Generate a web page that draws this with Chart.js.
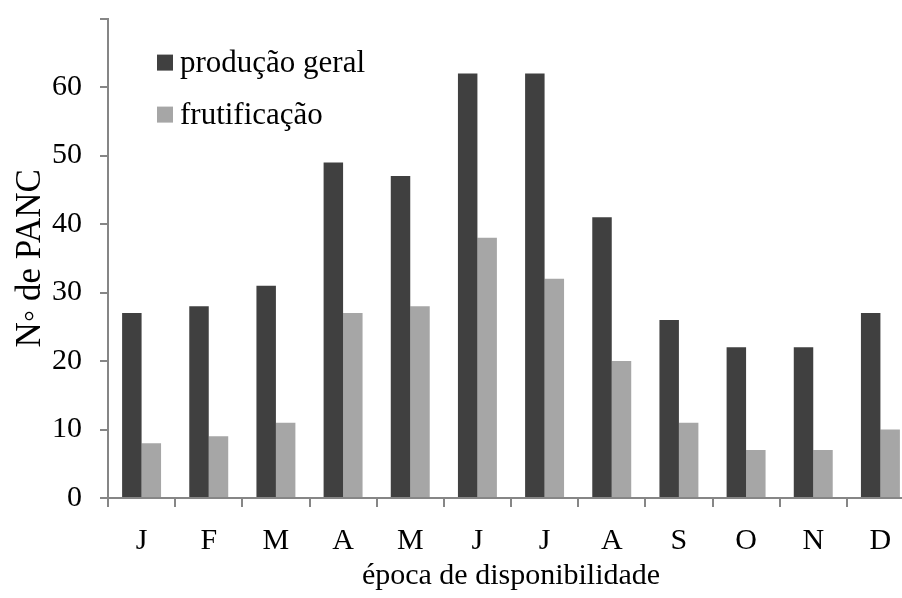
<!DOCTYPE html>
<html>
<head>
<meta charset="utf-8">
<script src="https://cdn.jsdelivr.net/npm/chart.js@4.4.1/dist/chart.umd.min.js"></script>
<style>
html,body{margin:0;padding:0;background:#fff;overflow:hidden;}
#wrap{width:916px;height:598px;position:relative;}
</style>
</head>
<body>
<div id="wrap"><canvas id="c"></canvas></div>
<script>
const categories = ['J','F','M','A','M','J','J','A','S','O','N','D'];
const producaoGeral = [27, 28, 31, 49, 47, 62, 62, 41, 26, 22, 22, 27];
const frutificacao = [8, 9, 11, 27, 28, 38, 32, 20, 11, 7, 7, 10];
const seriesNames = ['produção geral', 'frutificação'];
const yTickMax = 60;

const FONT = '"Liberation Serif", "Times New Roman", serif';
const AXIS = '#868686';

const innerLegend = {
  id: 'innerLegend',
  afterDraw(chart) {
    const ctx = chart.ctx;
    const ca = chart.chartArea;
    ctx.save();
    ctx.font = '31px ' + FONT;
    ctx.textBaseline = 'middle';
    chart.data.datasets.forEach((ds, i) => {
      const y = ca.top + 44 + i * 52;
      ctx.fillStyle = ds.backgroundColor;
      ctx.fillRect(ca.left + 49, y - 8, 16, 16);
      ctx.fillStyle = '#000';
      ctx.fillText(ds.label, ca.left + 72, y + 1);
    });
    ctx.restore();
  }
};

new Chart(document.getElementById('c'), {
  type: 'bar',
  data: {
    labels: categories,
    datasets: [
      { label: seriesNames[0], data: producaoGeral, backgroundColor: '#404040' },
      { label: seriesNames[1], data: frutificacao, backgroundColor: '#a6a6a6' }
    ]
  },
  options: {
    responsive: true,
    maintainAspectRatio: false,
    animation: false,
    layout: { padding: { top: 14, right: 2, left: 0, bottom: 0 } },
    datasets: { bar: { categoryPercentage: 0.58, barPercentage: 1.0 } },
    plugins: { legend: { display: false }, tooltip: { enabled: false } },
    scales: {
      x: {
        offset: true,
        grid: { offset: true, drawOnChartArea: false, drawTicks: true, tickLength: 9, color: AXIS, lineWidth: 2 },
        border: { color: AXIS, width: 2 },
        ticks: { color: '#000', font: { family: FONT, size: 30 }, padding: 16, maxRotation: 0, autoSkip: false },
        title: { display: true, text: 'época de disponibilidade', color: '#000', font: { family: FONT, size: 30 }, padding: { top: 0 } },
        afterFit(s) { s.height = 100; }
      },
      y: {
        min: 0, max: 70,
        grid: { drawOnChartArea: false, drawTicks: true, tickLength: 8, color: AXIS, lineWidth: 2 },
        border: { color: AXIS, width: 2 },
        ticks: {
          stepSize: 10, color: '#000', padding: 18,
          font: (c) => ({ family: FONT, size: (c.tick && c.tick.value > yTickMax) ? 1 : 30 }),
          callback: (v) => v > yTickMax ? '' : v
        },
        title: { display: true, text: 'N◦ de PANC', color: '#000', font: { family: FONT, size: 35 }, padding: { top: 10, bottom: 6 } },
        afterFit(s) { s.width = 108; }
      }
    }
  },
  plugins: [innerLegend]
});
</script>
</body>
</html>
